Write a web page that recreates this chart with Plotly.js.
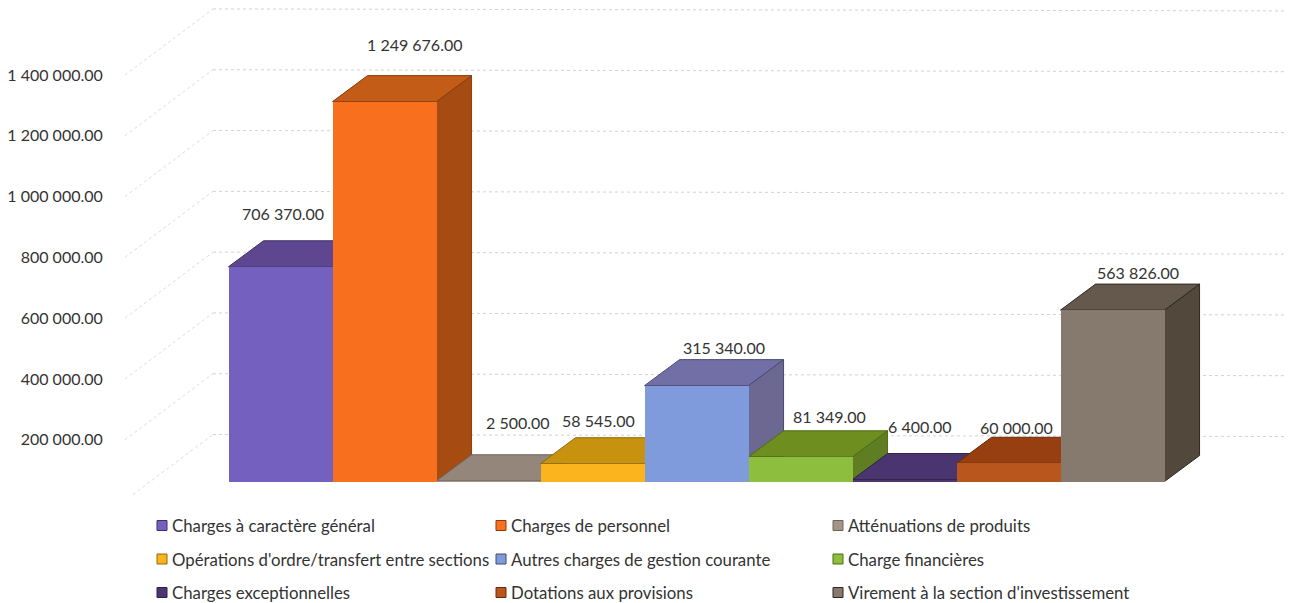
<!DOCTYPE html>
<html>
<head>
<meta charset="utf-8">
<script src="https://cdn.plot.ly/plotly-3.0.1.min.js"></script>
<style>html,body{margin:0;padding:0;background:#fff}#c{width:1298px;height:603px}</style>
</head>
<body>
<div id="c"></div>
<script>
const categories = ["Charges à caractère général","Charges de personnel","Atténuations de produits","Opérations d'ordre/transfert entre sections","Autres charges de gestion courante","Charge financières","Charges exceptionnelles","Dotations aux provisions","Virement à la section d'investissement"];
const values = [706370,1249676,2500,58545,315340,81349,6400,60000,563826];
const valueLabels = ["706 370.00","1 249 676.00","2 500.00","58 545.00","315 340.00","81 349.00","6 400.00","60 000.00","563 826.00"];
const tickValues = [200000,400000,600000,800000,1000000,1200000,1400000];
const tickLabels = ["200 000.00","400 000.00","600 000.00","800 000.00","1 000 000.00","1 200 000.00","1 400 000.00"];

const frontColors = ["#7460BE","#F8701E","#A39488","#FBB41E","#7F9BDC","#8DBE3D","#4C3672","#B8561E","#857A6D"];
const topColors   = ["#5F4690","#C25C16","#94867A","#C7930F","#716FA5","#6F8E20","#4A3570","#983F12","#65594D"];
const sideColors  = ["#4E3A78","#A64B12","#7F7266","#A87C10","#6C6892","#5F7D22","#3C2A5C","#7F3410","#52483C"];
const edgeColors  = ["#3F2F68","#8A3C0C","#6F6458","#8E680C","#454A70","#4F6A14","#2F2048","#6A2A0A","#2F2820"];
const labelShiftX = [2.5,30,29,6,27,29,15.5,7.5,25.5];
const labelShiftY = [53,57,58.5,43,38,40,53,36,37.6];

// oblique projection, in axis units
const barLift = 62500, barDepthX = 0.337, barDepthY = 85500;
const wallDepthX = 0.846, wallDepthY = 217000, wallTilt = 6500;
const xMin = -1.4952, xMax = 9.7067, yMin = -31250, yMax = 1639800, gridEnd = 9.66;

const barShapes = [];
values.forEach((v,i)=>{
  const l = i-0.5, r = i+0.5, t = barLift+v, b = barLift;
  const lineOf = {color:edgeColors[i],width:1};
  barShapes.push({type:'path',layer:'below',xref:'x',yref:'y',line:lineOf,fillcolor:sideColors[i],
    path:`M ${r} ${t} L ${r+barDepthX} ${t+barDepthY} L ${r+barDepthX} ${b+barDepthY} L ${r} ${b} Z`});
  barShapes.push({type:'path',layer:'below',xref:'x',yref:'y',line:lineOf,fillcolor:topColors[i],
    path:`M ${l} ${t} L ${l+barDepthX} ${t+barDepthY} L ${r+barDepthX} ${t+barDepthY} L ${r} ${t} Z`});
});

const gridStyle = {color:'#d2d2d2',width:1,dash:'dot'};
const diagStyle = {color:'#dcdcdc',width:1,dash:'dot'};
const gridShapes = [];
[0].concat(tickValues).forEach(v=>{
  const f = v===0 ? 0.09 : 0;
  gridShapes.push({type:'line',layer:'below',xref:'x',yref:'y',line:diagStyle,
    x0:xMin+f*wallDepthX,y0:v+f*wallDepthY,x1:xMin+wallDepthX,y1:v+wallDepthY});
  gridShapes.push({type:'line',layer:'below',xref:'x',yref:'y',line:gridStyle,
    x0:xMin+wallDepthX,y0:v+wallDepthY,x1:gridEnd,y1:v+wallDepthY-wallTilt});
});

const font = "Lato, Carlito, sans-serif";
const valueAnn = values.map((v,i)=>({xref:'x',yref:'y',x:i,y:barLift+v,text:valueLabels[i],showarrow:false,
  xanchor:'center',yanchor:'middle',xshift:labelShiftX[i],yshift:labelShiftY[i],font:{family:font,size:16,color:'#333333'}}));

// legend: three rows of three, laid out in pixels of the page
const W=1298,H=603;
const legendX=[157,496,833], legendY=[525.5,559,592.5];
const legendAnn=[], legendShapes=[];
const mL=125,mR=8,mT=2,mB=93;
const px=x=>(x-mL)/(W-mL-mR), py=y=>1-(y-mT)/(H-mT-mB);
categories.forEach((c,i)=>{
  const x=legendX[i%3], y=legendY[Math.floor(i/3)];
  legendShapes.push({type:'rect',xref:'paper',yref:'paper',x0:px(x),x1:px(x+10),y0:py(y-5),y1:py(y+5),
    fillcolor:frontColors[i],line:{color:edgeColors[i],width:1}});
  legendAnn.push({xref:'paper',yref:'paper',x:px(x+12.5),y:py(y),text:c,showarrow:false,xanchor:'left',yanchor:'middle',
    font:{family:font,size:16.8,color:'#333333'}});
});

const bars={type:'bar',x:categories.map((_,i)=>i),y:values,base:barLift,width:1,
  marker:{color:frontColors,line:{width:0}},showlegend:false,hoverinfo:'skip'};

Plotly.newPlot('c',[bars],{
  width:W,height:H,margin:{l:mL,r:mR,t:mT,b:mB,pad:0},
  paper_bgcolor:'#fff',plot_bgcolor:'#fff',showlegend:false,bargap:0,
  xaxis:{type:'linear',range:[xMin,xMax],visible:false,fixedrange:true},
  yaxis:{range:[yMin,yMax],showgrid:false,zeroline:false,showline:false,tickmode:'array',tickvals:tickValues,ticktext:tickLabels,
    ticks:'outside',ticklen:18,tickcolor:'rgba(0,0,0,0)',tickfont:{family:font,size:16,color:'#333333'},fixedrange:true},
  shapes:gridShapes.concat(barShapes,legendShapes),
  annotations:valueAnn.concat(legendAnn)
},{displayModeBar:false,staticPlot:true});
</script>
</body>
</html>
